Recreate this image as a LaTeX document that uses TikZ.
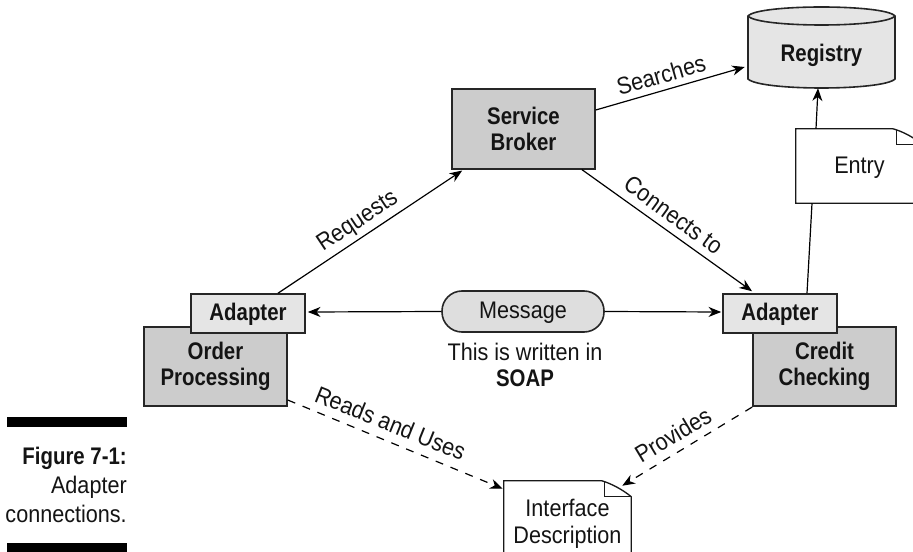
\documentclass[tikz,border=0pt]{standalone}
\usepackage{fontspec}
\setmainfont[FakeStretch=0.9,BoldFeatures={FakeStretch=0.85}]{Liberation Sans}
\usetikzlibrary{arrows.meta,calc}
\tikzset{
  px/.style={x=.75pt,y=-.75pt},
  txt/.style={font=\fontsize{18}{20}\selectfont,align=center,inner sep=0pt,text=black!92},
  oneline/.style={text height=11.2pt,text depth=0pt},
  stdbox/.style={txt,font=\fontsize{18}{20}\selectfont\bfseries,draw=black!85,line width=1.2pt,fill=black!20,minimum width=143*.75pt,minimum height=79.5*.75pt},
  adapterbox/.style={stdbox,oneline,fill=black!10,minimum width=114*.75pt,minimum height=39*.75pt},
  conn/.style={line width=.9pt,black},
  arrowed/.style={-{Stealth[length=9.5pt,width=7.5pt,inset=3pt]}},
  dashedconn/.style={conn,dash pattern=on 6pt off 6pt},
  edgelabel/.style={txt},
  docpath/.style={line width=1pt,black!90},
}
\begin{document}
\begin{tikzpicture}[px]
\clip (0,0) rectangle (913,552);
% caption bars
\fill[black] (7,417) rectangle (127,427);
\fill[black] (7,543) rectangle (127,553);
\node[txt,align=right,anchor=east,font=\fontsize{18}{22}\selectfont] (caption) at (127,485) {\textbf{Figure 7-1:}\\Adapter\\connections.};
% registry
\draw[line width=1.2pt,draw=black!85,fill=black!10] (748,16) -- (748,79) .. controls (760,91) and (883,91) .. (895,79) -- (895,16) .. controls (885,4) and (758,4) .. (748,16) -- cycle;
\draw[line width=1.2pt,draw=black!85] (748,16) .. controls (758,28) and (885,28) .. (895,16);
\node[txt,oneline,font=\fontsize{18}{20}\selectfont\bfseries,minimum width=147*.75pt,minimum height=65*.75pt] (registry) at (821.5,54.5) {Registry};
% boxes
\node[stdbox] (broker) at (523.5,129) {Service\\Broker};
\node[stdbox] (order) at (215.5,366.5) {Order\\Processing};
\node[stdbox] (credit) at (824.5,366.5) {Credit\\Checking};
\node[adapterbox] (adl) at (248,313.5) {Adapter};
\node[adapterbox] (adr) at (780,313.5) {Adapter};
\node[txt,oneline,draw=black!85,line width=1.2pt,fill=black!13,rounded corners=15pt,minimum width=162*.75pt,minimum height=41*.75pt] (msg) at (523,311.5) {Message};
\node[txt] (written) at (525,365) {This is written in\\\textbf{SOAP}};
% documents
\node[txt,oneline,minimum width=127*.75pt,minimum height=74*.75pt] (entry) at (859.5,166) {Entry};
\draw[docpath] (entry.north west) -- ($(entry.north west)+(97,0)$) .. controls ($(entry.north west)+(108,3)$) and ($(entry.north west)+(118,9)$) .. ($(entry.north east)+(0,16)$) -- (entry.south east) -- (entry.south west) -- cycle;
\draw[docpath] ($(entry.north west)+(101,1)$) -- ($(entry.north west)+(101,16)$) -- ($(entry.north east)+(0,16)$);
\node[txt,minimum width=127*.75pt,minimum height=85*.75pt] (iface) at (567.5,523.5) {Interface\\Description};
\draw[docpath] (iface.north west) -- ($(iface.north west)+(98,0)$) .. controls ($(iface.north west)+(108,3)$) and ($(iface.north west)+(119,9)$) .. ($(iface.north east)+(0,16)$) -- (iface.south east) -- (iface.south west) -- cycle;
\draw[docpath] ($(iface.north west)+(101,1)$) -- ($(iface.north west)+(101,16)$) -- ($(iface.north east)+(0,16)$);
% connectors
\draw[conn,arrowed] ($(adl.north)+(30,0)$) -- ($(broker.south west)+(11,1)$);
\draw[conn,arrowed] ($(broker.east)+(0,-19)$) -- ($(registry.west)+(-3,12.5)$);
\draw[conn,arrowed] ($(broker.south east)+(-14,0)$) -- ($(adr.north)+(-28,-2)$);
\draw[conn,arrowed] (msg.west) -- ($(adl.east)+(2,-1.5)$);
\draw[conn,arrowed] (msg.east) -- ($(adr.west)+(-1,-1.5)$);
\draw[conn] ($(adr.north)+(27,0)$) -- ($(entry.south)+(-47.5,0)$);
\draw[conn,arrowed] ($(entry.north)+(-43.5,0)$) -- ($(registry.south)+(-3.5,1)$);
\draw[dashedconn,arrowed] ($(order.south east)+(0,-7)$) -- ($(iface.north west)+(-1,8)$);
\draw[dashedconn,arrowed] (credit.south west) -- ($(iface.north east)+(-9,5)$);
% labels
\node[edgelabel,rotate=16] (lsearch) at (661,75) {Searches};
\node[edgelabel,rotate=33.5] (lreq) at (358,222) {Requests};
\node[edgelabel,rotate=-36] (lconn) at (673.5,215) {Connects to};
\node[edgelabel,rotate=-22] (lreads) at (390.5,423) {Reads and Uses};
\node[edgelabel,rotate=31] (lprov) at (673,435) {Provides};
\end{tikzpicture}
\end{document}
